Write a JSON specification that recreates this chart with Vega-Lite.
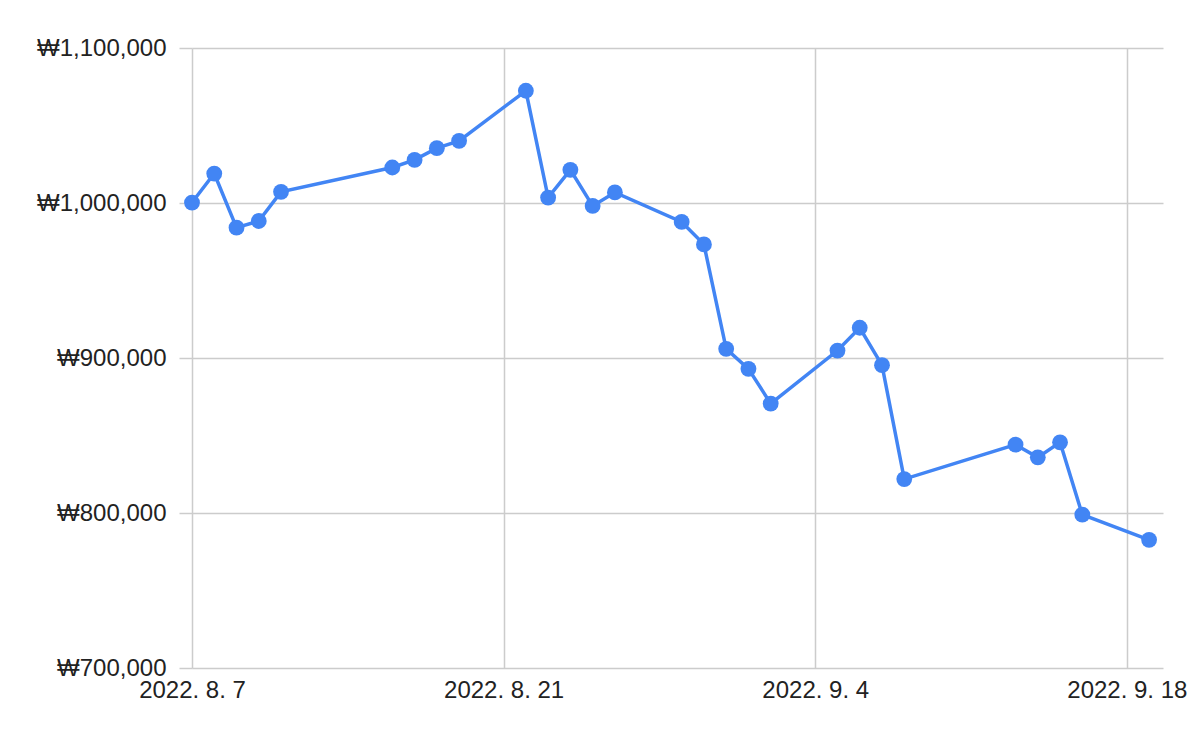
{
  "$schema": "https://vega.github.io/schema/vega-lite/v6.json",
  "width": 971,
  "height": 620,
  "autosize": "none",
  "padding": {"left": 192, "top": 48, "right": 37, "bottom": 74},
  "background": "white",
  "config": {"view": {"stroke": null}, "font": "Liberation Sans"},
  "data": {
    "values": [
      {"date": "2022-08-07", "value": 1000300},
      {"date": "2022-08-08", "value": 1019000},
      {"date": "2022-08-09", "value": 984100},
      {"date": "2022-08-10", "value": 988400},
      {"date": "2022-08-11", "value": 1007200},
      {"date": "2022-08-16", "value": 1022900},
      {"date": "2022-08-17", "value": 1027800},
      {"date": "2022-08-18", "value": 1035400},
      {"date": "2022-08-19", "value": 1040100},
      {"date": "2022-08-22", "value": 1072400},
      {"date": "2022-08-23", "value": 1003500},
      {"date": "2022-08-24", "value": 1021400},
      {"date": "2022-08-25", "value": 998100},
      {"date": "2022-08-26", "value": 1006800},
      {"date": "2022-08-29", "value": 987800},
      {"date": "2022-08-30", "value": 973300},
      {"date": "2022-08-31", "value": 905900},
      {"date": "2022-09-01", "value": 893000},
      {"date": "2022-09-02", "value": 870600},
      {"date": "2022-09-05", "value": 904800},
      {"date": "2022-09-06", "value": 919500},
      {"date": "2022-09-07", "value": 895400},
      {"date": "2022-09-08", "value": 821900},
      {"date": "2022-09-13", "value": 844100},
      {"date": "2022-09-14", "value": 835900},
      {"date": "2022-09-15", "value": 845600},
      {"date": "2022-09-16", "value": 798900},
      {"date": "2022-09-19", "value": 782700}
    ]
  },
  "mark": {
    "type": "line",
    "color": "#4285F4",
    "strokeWidth": 3.5,
    "point": {"filled": true, "size": 250, "opacity": 1, "color": "#4285F4"}
  },
  "encoding": {
    "x": {
      "field": "date",
      "type": "temporal",
      "scale": {
        "type": "utc",
        "domain": [
          {"year": 2022, "month": 8, "date": 7, "utc": true},
          {"year": 2022, "month": 9, "date": 19, "hours": 15, "utc": true}
        ]
      },
      "axis": {
        "title": null,
        "values": [
          {"year": 2022, "month": 8, "date": 7, "utc": true},
          {"year": 2022, "month": 8, "date": 21, "utc": true},
          {"year": 2022, "month": 9, "date": 4, "utc": true},
          {"year": 2022, "month": 9, "date": 18, "utc": true}
        ],
        "labelExpr": "utcFormat(datum.value, '%Y. %-m. %-d')",
        "ticks": false,
        "domain": false,
        "grid": true,
        "gridColor": "#cccccc",
        "gridWidth": 1.5,
        "gridOpacity": 1,
        "labelFontSize": 24,
        "labelColor": "#222222",
        "labelPadding": 10,
        "labelFlush": false,
        "labelOverlap": false
      }
    },
    "y": {
      "field": "value",
      "type": "quantitative",
      "scale": {"domain": [700000, 1100000], "zero": false, "nice": false},
      "axis": {
        "title": null,
        "values": [700000, 800000, 900000, 1000000, 1100000],
        "labelExpr": "'₩' + format(datum.value, ',')",
        "domain": false,
        "ticks": true,
        "tickSize": 13,
        "tickColor": "#cccccc",
        "tickWidth": 1.5,
        "grid": true,
        "gridColor": "#cccccc",
        "gridWidth": 1.5,
        "gridOpacity": 1,
        "labelFontSize": 24,
        "labelColor": "#222222",
        "labelPadding": 13,
        "labelFlush": false,
        "labelOverlap": false
      }
    }
  }
}
